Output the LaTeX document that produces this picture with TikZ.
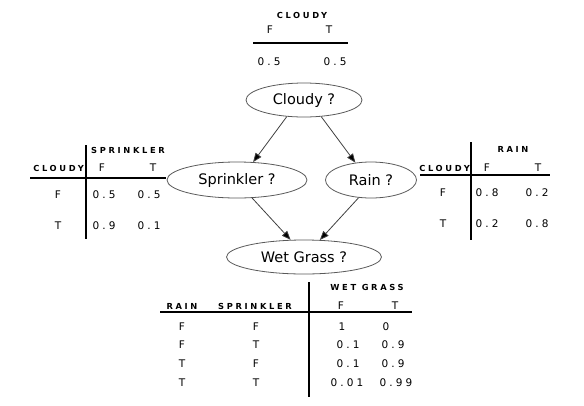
\documentclass[tikz,border=0pt]{standalone}
\usepackage{fontspec}
\setmainfont{DejaVu Sans}
\newfontfamily\hdrfont{DejaVu Sans}[LetterSpace=32]
\newfontfamily\numfont{DejaVu Sans}[LetterSpace=30]
\usetikzlibrary{shapes.geometric,arrows.meta}
\begin{document}
\begin{tikzpicture}[x=1pt,y=-1pt,
  var/.style={ellipse,draw=black!65,line width=0.8pt,inner sep=0pt,font=\fontsize{14.5}{16}\selectfont},
  edge/.style={draw=black!75,line width=0.8pt,-{Triangle[length=9pt,width=7pt,fill=black]}},
  hdr/.style={inner sep=0pt,font=\hdrfont\bfseries\fontsize{8.3}{10}\selectfont},
  cell/.style={inner sep=0pt,font=\numfont\fontsize{10.5}{12}\selectfont},
  rule/.style={line width=1.4pt}]
\useasboundingbox (0,0) rectangle (584,405);
% network
\node[var,minimum width=116pt,minimum height=34pt] (c) at (304,100) {Cloudy ?};
\node[var,minimum width=140pt,minimum height=36pt] (s) at (237,180) {Sprinkler ?};
\node[var,minimum width=91pt,minimum height=36pt] (r) at (371,180) {Rain ?};
\node[var,minimum width=155pt,minimum height=34pt] (w) at (304,257) {Wet Grass ?};
\draw[edge] (c.224) -- (s.48);
\draw[edge] (c.316) -- (r.132);
\draw[edge] (s.310) -- (w.128);
\draw[edge] (r.235) -- (w.47);
% top table
\node[hdr] (tc) at (302,15) {CLOUDY};
\node[cell] (tf) at (270,30) {F};
\node[cell] (tt) at (329,30) {T};
\coordinate (tl1) at (253,43); \coordinate (tl2) at (348,43);
\draw[rule] (tl1) -- (tl2);
\node[cell] (tv1) at (269,62) {0.5};
\node[cell] (tv2) at (335,62) {0.5};
% left table
\coordinate (lv1) at (86,145); \coordinate (lv2) at (86,239);
\coordinate (lh1) at (30,178); \coordinate (lh2) at (166,178);
\draw[rule] (lv1) -- (lv2);
\draw[rule] (lh1) -- (lh2);
\node[hdr] (lsp) at (128,150) {SPRINKLER};
\node[hdr,anchor=east] (lcl) at (84,168) {CLOUDY};
\node[cell] (lf) at (102,168) {F};
\node[cell] (lt) at (153,168) {T};
\node[cell] (lr1) at (58,195) {F};
\node[cell] (l11) at (104,195) {0.5};
\node[cell] (l12) at (149,195) {0.5};
\node[cell] (lr2) at (58,226) {T};
\node[cell] (l21) at (104,226) {0.9};
\node[cell] (l22) at (149,226) {0.1};
% right table
\coordinate (rv1) at (471,142); \coordinate (rv2) at (471,240);
\coordinate (rh1) at (420,175); \coordinate (rh2) at (550,175);
\draw[rule] (rv1) -- (rv2);
\draw[rule] (rh1) -- (rh2);
\node[hdr] (rrn) at (513,149) {RAIN};
\node[hdr,anchor=east] (rcl) at (470,168) {CLOUDY};
\node[cell] (rf) at (487,168) {F};
\node[cell] (rt) at (538,168) {T};
\node[cell] (rr1) at (443,193) {F};
\node[cell] (r11) at (487,193) {0.8};
\node[cell] (r12) at (537,193) {0.2};
\node[cell] (rr2) at (443,224) {T};
\node[cell] (r21) at (487,224) {0.2};
\node[cell] (r22) at (537,224) {0.8};
% bottom table
\coordinate (bv1) at (309,282); \coordinate (bv2) at (309,397);
\coordinate (bh1) at (160,312); \coordinate (bh2) at (412,312);
\draw[rule] (bv1) -- (bv2);
\draw[rule] (bh1) -- (bh2);
\node[hdr] (bwg) at (367,287) {WET GRASS};
\node[hdr] (brn) at (182,306) {RAIN};
\node[hdr] (bsp) at (255,306) {SPRINKLER};
\node[cell] (bf) at (341,306) {F};
\node[cell] (bt) at (395,306) {T};
\node[cell] (b1a) at (182,327) {F};
\node[cell] (b1b) at (256,327) {F};
\node[cell] (b1c) at (342,327) {1};
\node[cell] (b1d) at (386,327) {0};
\node[cell] (b2a) at (182,345) {F};
\node[cell] (b2b) at (256,345) {T};
\node[cell] (b2c) at (348,345) {0.1};
\node[cell] (b2d) at (393,345) {0.9};
\node[cell] (b3a) at (182,364) {T};
\node[cell] (b3b) at (256,364) {F};
\node[cell] (b3c) at (348,364) {0.1};
\node[cell] (b3d) at (393,364) {0.9};
\node[cell] (b4a) at (182,383) {T};
\node[cell] (b4b) at (256,383) {T};
\node[cell] (b4c) at (347,383) {0.01};
\node[cell] (b4d) at (396,383) {0.99};
\end{tikzpicture}
\end{document}
